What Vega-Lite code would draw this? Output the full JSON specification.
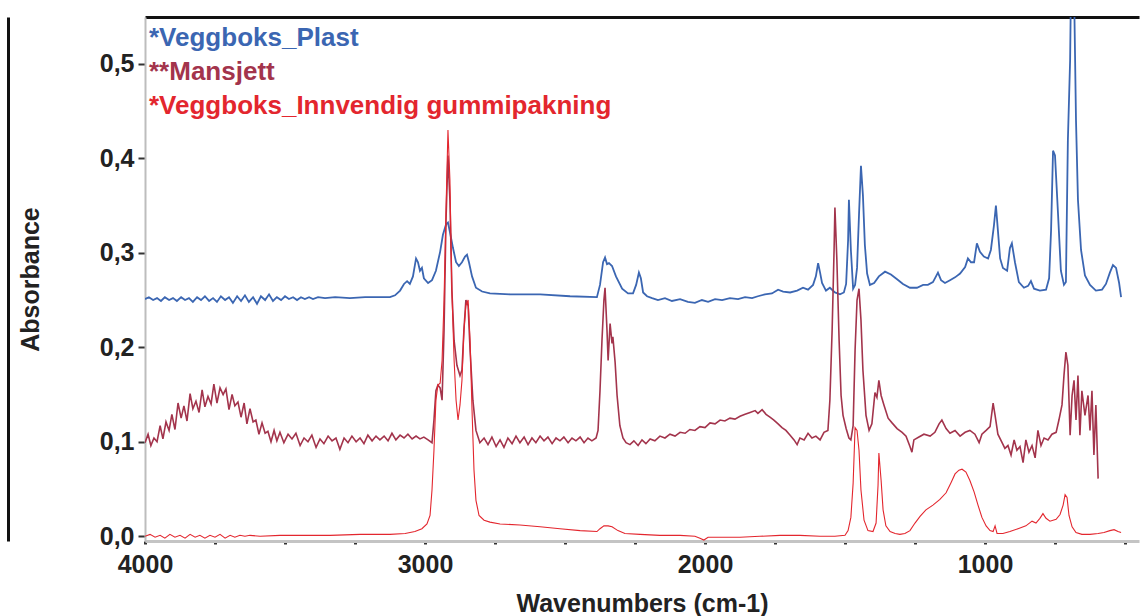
{
  "$schema": "https://vega.github.io/schema/vega-lite/v6.json",
  "width": 994,
  "height": 524,
  "autosize": {"type": "none"},
  "padding": {"left": 145, "top": 17, "right": 3, "bottom": 75},
  "background": "white",
  "config": {"view": {"stroke": null}, "font": "Liberation Sans"},
  "datasets": {
    "plast": [
      {"w":4000,"a":0.251},{"w":3986,"a":0.253},{"w":3971,"a":0.250},{"w":3957,"a":0.252},{"w":3943,"a":0.249},{"w":3929,"a":0.253},{"w":3914,"a":0.250},{"w":3900,"a":0.252},{"w":3886,"a":0.249},{"w":3871,"a":0.253},{"w":3857,"a":0.250},{"w":3843,"a":0.252},{"w":3829,"a":0.248},{"w":3814,"a":0.253},{"w":3800,"a":0.250},{"w":3786,"a":0.254},{"w":3771,"a":0.249},{"w":3757,"a":0.252},{"w":3743,"a":0.248},{"w":3729,"a":0.254},{"w":3714,"a":0.250},{"w":3700,"a":0.253},{"w":3686,"a":0.247},{"w":3671,"a":0.254},{"w":3657,"a":0.249},{"w":3643,"a":0.255},{"w":3629,"a":0.248},{"w":3614,"a":0.253},{"w":3600,"a":0.246},{"w":3586,"a":0.254},{"w":3571,"a":0.250},{"w":3557,"a":0.256},{"w":3543,"a":0.249},{"w":3529,"a":0.253},{"w":3514,"a":0.250},{"w":3500,"a":0.254},{"w":3486,"a":0.251},{"w":3471,"a":0.253},{"w":3457,"a":0.250},{"w":3443,"a":0.253},{"w":3429,"a":0.251},{"w":3414,"a":0.253},{"w":3400,"a":0.251},{"w":3382,"a":0.253},{"w":3357,"a":0.252},{"w":3321,"a":0.253},{"w":3268,"a":0.252},{"w":3214,"a":0.253},{"w":3161,"a":0.253},{"w":3125,"a":0.253},{"w":3107,"a":0.255},{"w":3089,"a":0.260},{"w":3075,"a":0.267},{"w":3064,"a":0.270},{"w":3054,"a":0.267},{"w":3043,"a":0.275},{"w":3032,"a":0.294},{"w":3025,"a":0.290},{"w":3018,"a":0.281},{"w":3011,"a":0.284},{"w":3004,"a":0.273},{"w":2989,"a":0.268},{"w":2975,"a":0.271},{"w":2961,"a":0.281},{"w":2946,"a":0.301},{"w":2936,"a":0.319},{"w":2925,"a":0.330},{"w":2918,"a":0.332},{"w":2911,"a":0.322},{"w":2900,"a":0.305},{"w":2889,"a":0.290},{"w":2879,"a":0.286},{"w":2868,"a":0.290},{"w":2857,"a":0.296},{"w":2850,"a":0.298},{"w":2843,"a":0.290},{"w":2832,"a":0.275},{"w":2818,"a":0.263},{"w":2796,"a":0.259},{"w":2768,"a":0.257},{"w":2696,"a":0.256},{"w":2589,"a":0.256},{"w":2482,"a":0.254},{"w":2386,"a":0.253},{"w":2375,"a":0.266},{"w":2364,"a":0.290},{"w":2357,"a":0.295},{"w":2350,"a":0.288},{"w":2343,"a":0.289},{"w":2332,"a":0.286},{"w":2318,"a":0.275},{"w":2296,"a":0.262},{"w":2275,"a":0.257},{"w":2257,"a":0.257},{"w":2246,"a":0.266},{"w":2236,"a":0.279},{"w":2229,"a":0.273},{"w":2221,"a":0.258},{"w":2207,"a":0.254},{"w":2189,"a":0.252},{"w":2168,"a":0.250},{"w":2143,"a":0.252},{"w":2118,"a":0.249},{"w":2089,"a":0.251},{"w":2061,"a":0.248},{"w":2036,"a":0.247},{"w":2011,"a":0.250},{"w":1989,"a":0.248},{"w":1964,"a":0.251},{"w":1939,"a":0.250},{"w":1911,"a":0.252},{"w":1882,"a":0.251},{"w":1857,"a":0.253},{"w":1832,"a":0.252},{"w":1811,"a":0.254},{"w":1786,"a":0.256},{"w":1761,"a":0.257},{"w":1739,"a":0.261},{"w":1721,"a":0.259},{"w":1696,"a":0.258},{"w":1671,"a":0.260},{"w":1650,"a":0.263},{"w":1632,"a":0.261},{"w":1614,"a":0.266},{"w":1604,"a":0.275},{"w":1596,"a":0.289},{"w":1589,"a":0.279},{"w":1582,"a":0.268},{"w":1568,"a":0.260},{"w":1554,"a":0.263},{"w":1536,"a":0.258},{"w":1518,"a":0.256},{"w":1504,"a":0.258},{"w":1496,"a":0.267},{"w":1489,"a":0.313},{"w":1486,"a":0.356},{"w":1479,"a":0.303},{"w":1471,"a":0.262},{"w":1464,"a":0.266},{"w":1457,"a":0.284},{"w":1450,"a":0.340},{"w":1443,"a":0.392},{"w":1436,"a":0.361},{"w":1429,"a":0.308},{"w":1421,"a":0.278},{"w":1411,"a":0.266},{"w":1396,"a":0.268},{"w":1379,"a":0.275},{"w":1357,"a":0.280},{"w":1336,"a":0.277},{"w":1314,"a":0.272},{"w":1293,"a":0.267},{"w":1268,"a":0.263},{"w":1243,"a":0.263},{"w":1221,"a":0.266},{"w":1204,"a":0.266},{"w":1186,"a":0.269},{"w":1175,"a":0.275},{"w":1168,"a":0.279},{"w":1157,"a":0.271},{"w":1143,"a":0.268},{"w":1125,"a":0.271},{"w":1107,"a":0.274},{"w":1089,"a":0.278},{"w":1071,"a":0.285},{"w":1061,"a":0.294},{"w":1050,"a":0.290},{"w":1039,"a":0.290},{"w":1029,"a":0.310},{"w":1018,"a":0.301},{"w":1004,"a":0.296},{"w":989,"a":0.294},{"w":979,"a":0.303},{"w":968,"a":0.329},{"w":961,"a":0.350},{"w":954,"a":0.324},{"w":946,"a":0.294},{"w":936,"a":0.284},{"w":921,"a":0.281},{"w":911,"a":0.305},{"w":904,"a":0.310},{"w":893,"a":0.290},{"w":879,"a":0.269},{"w":861,"a":0.263},{"w":846,"a":0.265},{"w":836,"a":0.270},{"w":825,"a":0.262},{"w":804,"a":0.260},{"w":782,"a":0.261},{"w":771,"a":0.273},{"w":764,"a":0.324},{"w":757,"a":0.408},{"w":750,"a":0.403},{"w":739,"a":0.340},{"w":729,"a":0.281},{"w":718,"a":0.266},{"w":711,"a":0.269},{"w":704,"a":0.419},{"w":696,"a":0.504},{"w":693,"a":0.58},{"w":682,"a":0.58},{"w":675,"a":0.440},{"w":668,"a":0.356},{"w":657,"a":0.303},{"w":643,"a":0.276},{"w":625,"a":0.266},{"w":604,"a":0.260},{"w":582,"a":0.261},{"w":568,"a":0.267},{"w":554,"a":0.279},{"w":543,"a":0.287},{"w":532,"a":0.284},{"w":521,"a":0.268},{"w":514,"a":0.253}
    ],
    "mansjett": [
      {"w":4000,"a":0.099},{"w":3989,"a":0.108},{"w":3979,"a":0.096},{"w":3968,"a":0.104},{"w":3957,"a":0.100},{"w":3946,"a":0.117},{"w":3936,"a":0.103},{"w":3925,"a":0.121},{"w":3914,"a":0.112},{"w":3904,"a":0.129},{"w":3893,"a":0.113},{"w":3882,"a":0.141},{"w":3871,"a":0.125},{"w":3861,"a":0.138},{"w":3850,"a":0.122},{"w":3839,"a":0.151},{"w":3829,"a":0.135},{"w":3818,"a":0.143},{"w":3807,"a":0.131},{"w":3796,"a":0.155},{"w":3786,"a":0.137},{"w":3775,"a":0.148},{"w":3764,"a":0.140},{"w":3754,"a":0.161},{"w":3743,"a":0.141},{"w":3732,"a":0.157},{"w":3721,"a":0.150},{"w":3711,"a":0.156},{"w":3700,"a":0.134},{"w":3689,"a":0.150},{"w":3679,"a":0.138},{"w":3668,"a":0.142},{"w":3657,"a":0.126},{"w":3646,"a":0.141},{"w":3636,"a":0.119},{"w":3625,"a":0.135},{"w":3614,"a":0.121},{"w":3604,"a":0.123},{"w":3593,"a":0.108},{"w":3582,"a":0.120},{"w":3571,"a":0.109},{"w":3561,"a":0.111},{"w":3550,"a":0.100},{"w":3539,"a":0.112},{"w":3529,"a":0.101},{"w":3518,"a":0.110},
      {"w":3504,"a":0.099},{"w":3489,"a":0.108},{"w":3475,"a":0.103},{"w":3461,"a":0.109},{"w":3446,"a":0.096},{"w":3432,"a":0.104},{"w":3418,"a":0.100},{"w":3404,"a":0.107},{"w":3389,"a":0.094},{"w":3375,"a":0.103},{"w":3361,"a":0.098},{"w":3346,"a":0.106},{"w":3332,"a":0.101},{"w":3318,"a":0.104},{"w":3304,"a":0.092},{"w":3289,"a":0.104},{"w":3275,"a":0.099},{"w":3261,"a":0.106},{"w":3246,"a":0.100},{"w":3232,"a":0.104},{"w":3218,"a":0.098},{"w":3204,"a":0.107},{"w":3189,"a":0.101},{"w":3175,"a":0.106},{"w":3161,"a":0.102},{"w":3146,"a":0.106},{"w":3132,"a":0.101},{"w":3118,"a":0.109},{"w":3104,"a":0.102},{"w":3089,"a":0.107},{"w":3075,"a":0.104},{"w":3061,"a":0.108},{"w":3046,"a":0.103},{"w":3032,"a":0.106},{"w":3018,"a":0.103},{"w":3004,"a":0.105},{"w":2989,"a":0.102},{"w":2975,"a":0.099},
      {"w":2968,"a":0.123},{"w":2961,"a":0.154},{"w":2954,"a":0.160},{"w":2946,"a":0.157},{"w":2939,"a":0.144},{"w":2932,"a":0.218},{"w":2925,"a":0.334},{"w":2918,"a":0.403},{"w":2911,"a":0.356},{"w":2904,"a":0.260},{"w":2896,"a":0.207},{"w":2886,"a":0.181},{"w":2875,"a":0.170},{"w":2868,"a":0.176},{"w":2861,"a":0.218},{"w":2854,"a":0.250},{"w":2846,"a":0.244},{"w":2839,"a":0.197},{"w":2829,"a":0.144},{"w":2818,"a":0.112},{"w":2804,"a":0.099},
      {"w":2789,"a":0.104},{"w":2775,"a":0.097},{"w":2761,"a":0.105},{"w":2746,"a":0.095},{"w":2732,"a":0.102},{"w":2718,"a":0.094},{"w":2704,"a":0.104},{"w":2689,"a":0.098},{"w":2675,"a":0.106},{"w":2661,"a":0.099},{"w":2646,"a":0.105},{"w":2632,"a":0.097},{"w":2618,"a":0.104},{"w":2604,"a":0.099},{"w":2589,"a":0.106},{"w":2575,"a":0.101},{"w":2561,"a":0.105},{"w":2546,"a":0.098},{"w":2532,"a":0.104},{"w":2518,"a":0.101},{"w":2504,"a":0.105},{"w":2489,"a":0.099},{"w":2475,"a":0.104},{"w":2461,"a":0.101},{"w":2446,"a":0.105},{"w":2432,"a":0.099},{"w":2418,"a":0.104},{"w":2404,"a":0.101},{"w":2389,"a":0.104},
      {"w":2382,"a":0.112},{"w":2375,"a":0.154},{"w":2368,"a":0.207},{"w":2361,"a":0.250},{"w":2357,"a":0.263},{"w":2350,"a":0.218},{"w":2346,"a":0.186},{"w":2339,"a":0.225},{"w":2332,"a":0.204},{"w":2329,"a":0.211},{"w":2321,"a":0.184},{"w":2314,"a":0.149},{"w":2304,"a":0.117},{"w":2293,"a":0.104},{"w":2282,"a":0.099},{"w":2268,"a":0.097},{"w":2254,"a":0.101},{"w":2239,"a":0.096},{"w":2225,"a":0.102},{"w":2211,"a":0.098},{"w":2196,"a":0.103},{"w":2179,"a":0.101},{"w":2161,"a":0.106},{"w":2143,"a":0.104},{"w":2125,"a":0.108},{"w":2107,"a":0.106},{"w":2089,"a":0.110},{"w":2071,"a":0.109},{"w":2054,"a":0.113},{"w":2036,"a":0.112},{"w":2018,"a":0.116},{"w":2000,"a":0.115},{"w":1982,"a":0.120},{"w":1964,"a":0.119},{"w":1946,"a":0.123},{"w":1929,"a":0.122},{"w":1911,"a":0.125},{"w":1893,"a":0.124},{"w":1875,"a":0.127},{"w":1857,"a":0.129},{"w":1839,"a":0.131},{"w":1821,"a":0.133},{"w":1811,"a":0.130},{"w":1796,"a":0.134},{"w":1782,"a":0.129},{"w":1768,"a":0.126},{"w":1754,"a":0.123},{"w":1739,"a":0.119},{"w":1725,"a":0.115},{"w":1711,"a":0.112},{"w":1696,"a":0.107},{"w":1682,"a":0.102},{"w":1671,"a":0.097},{"w":1661,"a":0.104},{"w":1646,"a":0.102},{"w":1632,"a":0.109},{"w":1618,"a":0.104},{"w":1604,"a":0.106},{"w":1589,"a":0.102},{"w":1575,"a":0.110},{"w":1561,"a":0.112},{"w":1554,"a":0.144},{"w":1546,"a":0.218},{"w":1539,"a":0.303},{"w":1536,"a":0.348},{"w":1529,"a":0.292},{"w":1521,"a":0.207},{"w":1514,"a":0.149},{"w":1507,"a":0.128},{"w":1496,"a":0.114},{"w":1486,"a":0.104},{"w":1479,"a":0.102},{"w":1471,"a":0.117},{"w":1464,"a":0.197},{"w":1457,"a":0.250},{"w":1450,"a":0.262},{"w":1443,"a":0.229},{"w":1436,"a":0.176},{"w":1425,"a":0.128},{"w":1414,"a":0.112},{"w":1404,"a":0.119},{"w":1393,"a":0.152},{"w":1386,"a":0.147},{"w":1379,"a":0.165},{"w":1371,"a":0.149},{"w":1361,"a":0.139},{"w":1346,"a":0.125},{"w":1332,"a":0.120},{"w":1314,"a":0.114},{"w":1296,"a":0.110},{"w":1282,"a":0.106},{"w":1268,"a":0.095},{"w":1261,"a":0.089},{"w":1254,"a":0.102},{"w":1236,"a":0.105},{"w":1218,"a":0.108},{"w":1196,"a":0.106},{"w":1179,"a":0.110},{"w":1164,"a":0.119},{"w":1154,"a":0.123},{"w":1139,"a":0.114},{"w":1125,"a":0.109},{"w":1107,"a":0.112},{"w":1089,"a":0.106},{"w":1071,"a":0.110},{"w":1054,"a":0.112},{"w":1036,"a":0.108},{"w":1021,"a":0.099},{"w":1011,"a":0.108},{"w":996,"a":0.112},{"w":982,"a":0.116},{"w":971,"a":0.141},{"w":964,"a":0.128},{"w":954,"a":0.108},{"w":939,"a":0.099},{"w":929,"a":0.093},{"w":918,"a":0.096},{"w":907,"a":0.086},{"w":896,"a":0.102},{"w":886,"a":0.091},{"w":875,"a":0.095},{"w":864,"a":0.078},{"w":854,"a":0.102},{"w":843,"a":0.089},{"w":832,"a":0.096},{"w":821,"a":0.083},{"w":811,"a":0.112},{"w":800,"a":0.096},{"w":789,"a":0.104},{"w":775,"a":0.102},{"w":761,"a":0.108},{"w":746,"a":0.110},{"w":736,"a":0.123},{"w":725,"a":0.139},{"w":718,"a":0.170},{"w":711,"a":0.195},{"w":704,"a":0.181},{"w":696,"a":0.107},{"w":689,"a":0.149},{"w":682,"a":0.165},{"w":675,"a":0.123},{"w":668,"a":0.170},{"w":661,"a":0.107},{"w":654,"a":0.154},{"w":643,"a":0.128},{"w":632,"a":0.149},{"w":625,"a":0.112},{"w":618,"a":0.154},{"w":611,"a":0.086},{"w":604,"a":0.139},{"w":596,"a":0.061}
    ],
    "gummi": [
      {"w":4000,"a":0.000},{"w":3982,"a":0.002},{"w":3964,"a":-0.001},{"w":3946,"a":0.001},{"w":3929,"a":-0.002},{"w":3911,"a":0.002},{"w":3893,"a":-0.001},{"w":3875,"a":0.001},{"w":3857,"a":-0.002},{"w":3839,"a":0.002},{"w":3821,"a":-0.001},{"w":3804,"a":0.001},{"w":3786,"a":-0.002},{"w":3768,"a":0.001},{"w":3750,"a":-0.001},{"w":3732,"a":0.002},{"w":3714,"a":-0.002},{"w":3696,"a":0.001},{"w":3679,"a":-0.001},{"w":3661,"a":0.001},{"w":3643,"a":0.000},{"w":3625,"a":0.001},{"w":3589,"a":0.000},{"w":3518,"a":0.001},{"w":3446,"a":0.001},{"w":3339,"a":0.001},{"w":3232,"a":0.002},{"w":3125,"a":0.002},{"w":3071,"a":0.003},{"w":3036,"a":0.005},{"w":3011,"a":0.008},{"w":2993,"a":0.013},{"w":2982,"a":0.022},{"w":2975,"a":0.049},{"w":2968,"a":0.091},{"w":2961,"a":0.144},{"w":2954,"a":0.160},{"w":2946,"a":0.162},{"w":2939,"a":0.186},{"w":2932,"a":0.250},{"w":2925,"a":0.345},{"w":2918,"a":0.430},{"w":2911,"a":0.377},{"w":2904,"a":0.260},{"w":2896,"a":0.186},{"w":2889,"a":0.144},{"w":2882,"a":0.123},{"w":2875,"a":0.139},{"w":2868,"a":0.165},{"w":2861,"a":0.218},{"w":2854,"a":0.244},{"w":2846,"a":0.250},{"w":2839,"a":0.207},{"w":2832,"a":0.133},{"w":2825,"a":0.070},{"w":2818,"a":0.038},{"w":2807,"a":0.022},{"w":2789,"a":0.017},{"w":2768,"a":0.015},{"w":2732,"a":0.013},{"w":2661,"a":0.012},{"w":2589,"a":0.010},{"w":2518,"a":0.008},{"w":2446,"a":0.006},{"w":2386,"a":0.005},{"w":2375,"a":0.008},{"w":2361,"a":0.011},{"w":2346,"a":0.011},{"w":2332,"a":0.010},{"w":2311,"a":0.006},{"w":2286,"a":0.003},{"w":2232,"a":0.002},{"w":2161,"a":0.001},{"w":2089,"a":0.001},{"w":2036,"a":0.000},{"w":2018,"a":-0.002},{"w":2004,"a":-0.004},{"w":1989,"a":-0.001},{"w":1946,"a":-0.001},{"w":1875,"a":-0.001},{"w":1804,"a":0.000},{"w":1732,"a":0.001},{"w":1661,"a":0.001},{"w":1589,"a":0.000},{"w":1536,"a":0.000},{"w":1500,"a":0.001},{"w":1489,"a":0.006},{"w":1479,"a":0.020},{"w":1471,"a":0.056},{"w":1464,"a":0.115},{"w":1457,"a":0.112},{"w":1450,"a":0.091},{"w":1443,"a":0.049},{"w":1432,"a":0.017},{"w":1418,"a":0.006},{"w":1400,"a":0.005},{"w":1389,"a":0.014},{"w":1382,"a":0.054},{"w":1379,"a":0.088},{"w":1371,"a":0.059},{"w":1364,"a":0.028},{"w":1354,"a":0.011},{"w":1339,"a":0.005},{"w":1321,"a":0.003},{"w":1304,"a":0.002},{"w":1286,"a":0.003},{"w":1268,"a":0.006},{"w":1250,"a":0.014},{"w":1232,"a":0.021},{"w":1211,"a":0.028},{"w":1186,"a":0.033},{"w":1161,"a":0.039},{"w":1139,"a":0.046},{"w":1121,"a":0.057},{"w":1107,"a":0.066},{"w":1093,"a":0.070},{"w":1082,"a":0.071},{"w":1068,"a":0.068},{"w":1054,"a":0.059},{"w":1039,"a":0.047},{"w":1025,"a":0.033},{"w":1011,"a":0.020},{"w":996,"a":0.011},{"w":982,"a":0.006},{"w":971,"a":0.005},{"w":964,"a":0.011},{"w":957,"a":0.003},{"w":936,"a":0.003},{"w":911,"a":0.005},{"w":882,"a":0.008},{"w":854,"a":0.011},{"w":832,"a":0.016},{"w":818,"a":0.014},{"w":804,"a":0.019},{"w":793,"a":0.024},{"w":782,"a":0.019},{"w":768,"a":0.016},{"w":746,"a":0.018},{"w":732,"a":0.023},{"w":721,"a":0.033},{"w":714,"a":0.044},{"w":707,"a":0.041},{"w":700,"a":0.022},{"w":689,"a":0.010},{"w":675,"a":0.004},{"w":654,"a":0.002},{"w":625,"a":0.002},{"w":596,"a":0.003},{"w":575,"a":0.004},{"w":554,"a":0.006},{"w":539,"a":0.007},{"w":525,"a":0.005},{"w":514,"a":0.004}
    ]
  },
  "layer": [
    {
      "data": {"name": "plast"},
      "mark": {"type": "line", "clip": true, "strokeWidth": 1.8},
      "encoding": {
        "x": {
          "field": "w", "type": "quantitative",
          "scale": {"domain": [450, 4000], "reverse": true, "nice": false, "zero": false},
          "axis": {
            "values": [4000, 3750, 3500, 3250, 3000, 2750, 2500, 2250, 2000, 1750, 1500, 1250, 1000, 750, 500],
            "labelExpr": "datum.value % 1000 === 0 ? format(datum.value, 'd') : ''",
            "grid": false, "domainColor": "#c4c4c4", "domainWidth": 3,
            "tickColor": "#333333", "tickSize": 3, "tickWidth": 3,
            "labelPadding": 8, "labelFont": "Liberation Sans", "labelFontSize": 25, "labelFontWeight": "bold",
            "labelColor": "#222222", "labelFlush": false, "labelOverlap": false,
            "title": "Wavenumbers (cm-1)", "titleFont": "Liberation Sans", "titleFontSize": 25, "titleFontWeight": "bold",
            "titleColor": "#222222", "titlePadding": 14
          }
        },
        "y": {
          "field": "a", "type": "quantitative",
          "scale": {"domain": [-0.005, 0.5495], "nice": false, "zero": false},
          "axis": {
            "values": [0, 0.1, 0.2, 0.3, 0.4, 0.5],
            "labelExpr": "replace(format(datum.value, '.1f'), '.', ',')",
            "grid": false, "domainColor": "#bdbdbd", "domainWidth": 2,
            "tickColor": "#333333", "tickSize": 7, "tickWidth": 2,
            "labelPadding": 4, "labelFont": "Liberation Sans", "labelFontSize": 25, "labelFontWeight": "bold",
            "labelColor": "#222222",
            "title": "Absorbance", "titleFont": "Liberation Sans", "titleFontSize": 25, "titleFontWeight": "bold",
            "titleColor": "#222222", "titleX": -115, "titleY": 262, "titleAngle": -90,
            "titleAlign": "center", "titleBaseline": "middle"
          }
        },
        "color": {
          "datum": "*Veggboks_Plast", "type": "nominal",
          "scale": {
            "domain": ["*Veggboks_Plast", "**Mansjett", "*Veggboks_Innvendig gummipakning"],
            "range": ["#3b66b2", "#a3344c", "#e3262e"]
          },
          "legend": {
            "orient": "none", "legendX": -22, "legendY": 8, "title": null,
            "symbolSize": 0, "symbolStrokeWidth": 0, "symbolOpacity": 0, "labelOffset": 0,
            "labelFont": "Liberation Sans", "labelFontSize": 26, "labelFontWeight": "bold", "labelLimit": 0,
            "rowPadding": 8, "padding": 0,
            "encode": {"labels": {"update": {"fill": {"scale": "color", "field": "value"}}}}
          }
        }
      }
    },
    {
      "data": {"name": "mansjett"},
      "mark": {"type": "line", "clip": true, "strokeWidth": 1.6},
      "encoding": {
        "x": {"field": "w", "type": "quantitative", "scale": {"domain": [450, 4000], "reverse": true, "nice": false, "zero": false}, "axis": null},
        "y": {"field": "a", "type": "quantitative", "scale": {"domain": [-0.005, 0.5495], "nice": false, "zero": false}, "axis": null},
        "color": {"datum": "**Mansjett", "type": "nominal"}
      }
    },
    {
      "data": {"name": "gummi"},
      "mark": {"type": "line", "clip": true, "strokeWidth": 1.1},
      "encoding": {
        "x": {"field": "w", "type": "quantitative", "scale": {"domain": [450, 4000], "reverse": true, "nice": false, "zero": false},
          "axis": {"orient": "top", "labels": false, "ticks": false, "title": null, "grid": false, "domainColor": "#111111", "domainWidth": 3}},
        "y": {"field": "a", "type": "quantitative", "scale": {"domain": [-0.005, 0.5495], "nice": false, "zero": false},
          "axis": {"orient": "left", "offset": 137, "labels": false, "ticks": false, "title": null, "grid": false, "domainColor": "#111111", "domainWidth": 3}},
        "color": {"datum": "*Veggboks_Innvendig gummipakning", "type": "nominal"}
      }
    }
  ],
  "resolve": {"axis": {"x": "independent", "y": "independent"}}
}
